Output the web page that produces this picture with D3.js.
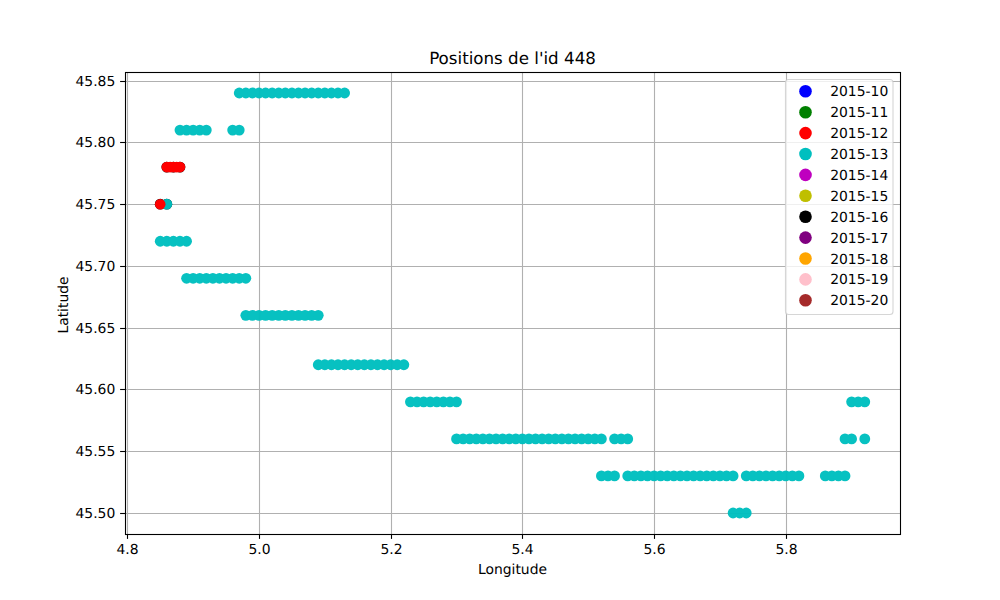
<!DOCTYPE html>
<html>
<head>
<meta charset="utf-8">
<script src="https://cdn.jsdelivr.net/npm/d3@7"></script>
<style>
  body { margin: 0; background: #fff; }
  text { font-family: "DejaVu Sans", sans-serif; fill: #000; text-rendering: geometricPrecision; }
</style>
</head>
<body>
<svg id="chart"></svg>
<script>
const LEGEND_LABELS = ['2015-10', '2015-11', '2015-12', '2015-13', '2015-14', '2015-15',
  '2015-16', '2015-17', '2015-18', '2015-19', '2015-20'];
const LEGEND_COLORS = ['#0000ff', '#008000', '#ff0000', '#00bfbf', '#bf00bf', '#bfbf00',
  '#000000', '#800080', '#ffa500', '#ffc0cb', '#a52a2a'];

const X_TICKS = [4.8, 5.0, 5.2, 5.4, 5.6, 5.8];
const Y_TICKS = [45.50, 45.55, 45.60, 45.65, 45.70, 45.75, 45.80, 45.85];

// Longitudes seen on each latitude row
const CYAN_84 = [4.97, 4.98, 4.99, 5.00, 5.01, 5.02, 5.03, 5.04, 5.05, 5.06, 5.07, 5.08, 5.09, 5.10, 5.11, 5.12, 5.13];
const CYAN_81 = [4.88, 4.89, 4.90, 4.91, 4.92, 4.96, 4.97];
const CYAN_75 = [4.86];
const CYAN_72 = [4.85, 4.86, 4.87, 4.88, 4.89];
const CYAN_69 = [4.89, 4.90, 4.91, 4.92, 4.93, 4.94, 4.95, 4.96, 4.97, 4.98];
const CYAN_66 = [4.98, 4.99, 5.00, 5.01, 5.02, 5.03, 5.04, 5.05, 5.06, 5.07, 5.08, 5.09];
const CYAN_62 = [5.09, 5.10, 5.11, 5.12, 5.13, 5.14, 5.15, 5.16, 5.17, 5.18, 5.19, 5.20, 5.21, 5.22];
const CYAN_59 = [5.23, 5.24, 5.25, 5.26, 5.27, 5.28, 5.29, 5.30, 5.90, 5.91, 5.92];
const CYAN_56 = [5.30, 5.31, 5.32, 5.33, 5.34, 5.35, 5.36, 5.37, 5.38, 5.39, 5.40, 5.41, 5.42, 5.43, 5.44, 5.45,
  5.46, 5.47, 5.48, 5.49, 5.50, 5.51, 5.52, 5.54, 5.55, 5.56, 5.89, 5.90, 5.92];
const CYAN_53 = [5.52, 5.53, 5.54, 5.56, 5.57, 5.58, 5.59, 5.60, 5.61, 5.62, 5.63, 5.64, 5.65, 5.66, 5.67, 5.68,
  5.69, 5.70, 5.71, 5.72, 5.74, 5.75, 5.76, 5.77, 5.78, 5.79, 5.80, 5.81, 5.82, 5.86, 5.87, 5.88, 5.89];
const CYAN_50 = [5.72, 5.73, 5.74];
const RED_78 = [4.86, 4.865, 4.87, 4.875, 4.88];
const RED_75 = [4.85];
const BLACK_78 = [4.86, 4.87, 4.88];
const BLACK_75 = [4.85, 4.86];

const width = 1000;
const height = 600;
const margin = { top: 72, right: 100, bottom: 66, left: 125 };

const svg = d3.select('#chart')
  .attr('width', width)
  .attr('height', height)
  .attr('viewBox', `0 0 ${width} ${height}`);

const x = d3.scaleLinear().domain([4.7965, 5.9735]).range([margin.left, width - margin.right]);
const y = d3.scaleLinear().domain([45.483, 45.857]).range([height - margin.bottom, margin.top]);

// Grid
svg.append('g').selectAll('line')
  .data(X_TICKS)
  .join('line')
  .attr('x1', d => Math.round(x(d)) + 0.5)
  .attr('x2', d => Math.round(x(d)) + 0.5)
  .attr('y1', margin.top)
  .attr('y2', height - margin.bottom)
  .attr('stroke', '#b0b0b0')
  .attr('stroke-width', 1.1);

svg.append('g').selectAll('line')
  .data(Y_TICKS)
  .join('line')
  .attr('x1', margin.left)
  .attr('x2', width - margin.right)
  .attr('y1', d => Math.round(y(d)) + 0.5)
  .attr('y2', d => Math.round(y(d)) + 0.5)
  .attr('stroke', '#b0b0b0')
  .attr('stroke-width', 1.1);

// Points in layers: black only shows as specks round the red ones,
// the cyan layer lets the grid through a little
const layers = [
  { color: '#000000', opacity: 1, radius: 5.4, rows: [[45.78, BLACK_78], [45.75, BLACK_75]] },
  {
    color: '#00bfbf',
    opacity: 0.97,
    radius: 5.4,
    rows: [[45.84, CYAN_84], [45.81, CYAN_81], [45.75, CYAN_75], [45.72, CYAN_72], [45.69, CYAN_69], [45.66, CYAN_66],
      [45.62, CYAN_62], [45.59, CYAN_59], [45.56, CYAN_56], [45.53, CYAN_53], [45.50, CYAN_50]],
  },
  { color: '#ff0000', opacity: 1, radius: 5.3, rows: [[45.78, RED_78], [45.75, RED_75]] },
];

layers.forEach(layer => {
  const points = layer.rows.flatMap(([lat, lons]) => lons.map(lon => ({ lon, lat })));

  svg.append('g')
    .attr('opacity', layer.opacity)
    .selectAll('circle')
    .data(points)
    .join('circle')
    .attr('cx', d => x(d.lon))
    .attr('cy', d => y(d.lat))
    .attr('r', layer.radius)
    .attr('fill', layer.color);
});

// Axes
const xAxis = svg.append('g')
  .attr('transform', `translate(0,${height - margin.bottom})`)
  .call(d3.axisBottom(x).tickValues(X_TICKS).tickFormat(d3.format('.1f')).tickSize(4.9).tickPadding(4.8));

const yAxis = svg.append('g')
  .attr('transform', `translate(${margin.left},0)`)
  .call(d3.axisLeft(y).tickValues(Y_TICKS).tickFormat(d3.format('.2f')).tickSize(4.9).tickPadding(4.8));

[xAxis, yAxis].forEach(axis => {
  axis.select('.domain').remove();
  axis.selectAll('text').attr('font-size', 13.9).style('font-family', '"DejaVu Sans", sans-serif');
  axis.selectAll('line').attr('stroke', '#000').attr('stroke-width', 1.1);
});
xAxis.selectAll('.tick').attr('transform', d => `translate(${Math.round(x(d)) + 0.5},0)`);
yAxis.selectAll('.tick').attr('transform', d => `translate(0,${Math.round(y(d)) + 0.5})`);

// Frame
svg.append('rect')
  .attr('x', margin.left + 0.5)
  .attr('y', margin.top + 0.5)
  .attr('width', width - margin.left - margin.right)
  .attr('height', height - margin.top - margin.bottom)
  .attr('fill', 'none')
  .attr('stroke', '#000')
  .attr('stroke-width', 1.1);

// Labels
svg.append('text')
  .attr('x', 512.5)
  .attr('y', 64)
  .attr('text-anchor', 'middle')
  .attr('font-size', 16.7)
  .text("Positions de l'id 448");

svg.append('text')
  .attr('x', 512.5)
  .attr('y', 574)
  .attr('text-anchor', 'middle')
  .attr('font-size', 13.9)
  .text('Longitude');

svg.append('text')
  .attr('transform', 'translate(68,305) rotate(-90)')
  .attr('text-anchor', 'middle')
  .attr('font-size', 13.9)
  .text('Latitude');

// Legend
const legend = svg.append('g');

legend.append('rect')
  .attr('x', 785.5)
  .attr('y', 79.5)
  .attr('width', 107.5)
  .attr('height', 235)
  .attr('rx', 3)
  .attr('fill', '#fff')
  .attr('fill-opacity', 0.8)
  .attr('stroke', '#ccc')
  .attr('stroke-opacity', 0.8)
  .attr('stroke-width', 1.1);

const legendRow = d3.scalePoint().domain(LEGEND_LABELS).range([91.3, 300.3]);

const legendItem = legend.selectAll('.legend-item')
  .data(LEGEND_LABELS)
  .join('g')
  .attr('class', 'legend-item')
  .attr('transform', d => `translate(805.5,${legendRow(d)})`);

legendItem.append('circle')
  .attr('r', 6.3)
  .attr('fill', (d, i) => LEGEND_COLORS[i]);

legendItem.append('text')
  .attr('x', 24.7)
  .attr('y', 5)
  .attr('font-size', 13.9)
  .text(d => d);
</script>
</body>
</html>
